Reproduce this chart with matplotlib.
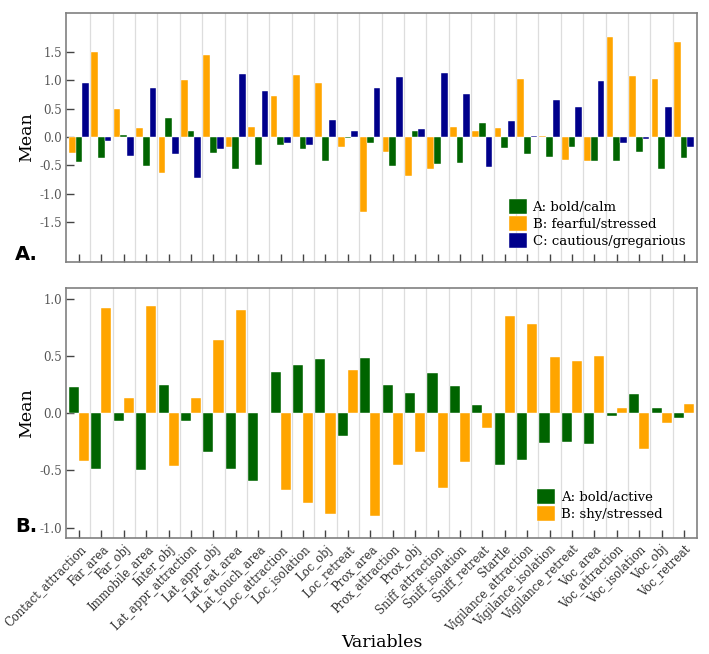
import matplotlib
matplotlib.use("Agg")
import matplotlib.pyplot as plt
import numpy as np

variables = ['Contact_attraction', 'Far_area', 'Far_obj', 'Immobile_area', 'Inter_obj',
             'Lat_appr_attraction', 'Lat_appr_obj', 'Lat_eat_area', 'Lat_touch_area',
             'Loc_attraction', 'Loc_isolation', 'Loc_obj', 'Loc_retreat', 'Prox_area',
             'Prox_attraction', 'Prox_obj', 'Sniff_attraction', 'Sniff_isolation',
             'Sniff_retreat', 'Startle', 'Vigilance_attraction', 'Vigilance_isolation',
             'Vigilance_retreat', 'Voc_area', 'Voc_attraction', 'Voc_isolation',
             'Voc_obj', 'Voc_retreat']

# Panel A: three components
a_bold_calm = [-0.45, -0.37, 0.035, -0.52, 0.34, 0.11, -0.28, -0.57, -0.50, -0.15,
               -0.22, -0.43, -0.02, -0.11, -0.51, 0.10, -0.47, -0.46, 0.25, -0.20,
               -0.30, -0.36, -0.18, -0.43, -0.43, -0.27, -0.57, -0.37]
a_fearful = [-0.28, 1.50, 0.49, 0.165, -0.64, 1.01, 1.45, -0.17, 0.18, 0.73,
             1.09, 0.95, -0.17, -1.33, -0.26, -0.69, -0.57, 0.17, 0.10, 0.16,
             1.03, 0.01, -0.40, -0.43, 1.77, 1.07, 1.02, 1.68]
a_cautious = [0.95, -0.08, -0.33, 0.86, -0.31, -0.73, -0.22, 1.12, 0.82, -0.11,
              -0.15, 0.30, 0.11, 0.86, 1.06, 0.14, 1.13, 0.75, -0.53, 0.28,
              0.02, 0.65, 0.53, 0.99, -0.10, -0.04, 0.53, -0.18]

# Panel B: two components
b_bold_active = [0.23, -0.49, -0.07, -0.50, 0.25, -0.07, -0.34, -0.49, -0.59, 0.36,
                 0.42, 0.475, -0.20, 0.48, 0.245, 0.18, 0.355, 0.236, 0.07, -0.455,
                 -0.41, -0.26, -0.25, -0.27, -0.023, 0.17, 0.05, -0.04]
b_shy = [-0.42, 0.92, 0.13, 0.94, -0.46, 0.13, 0.64, 0.90, 0.0, -0.67,
         -0.78, -0.88, 0.376, -0.895, -0.45, -0.34, -0.65, -0.43, -0.125, 0.85,
         0.78, 0.49, 0.46, 0.50, 0.047, -0.31, -0.087, 0.08]

GREEN = '#006400'
ORANGE = '#FFA500'
BLUE = '#00008B'

plt.rcParams['font.family'] = ['DejaVu Serif']

x = np.arange(len(variables))

fig = plt.figure(figsize=(7.09, 6.54), dpi=100)
ax1 = fig.add_axes([0.0931, 0.5994, 0.890, 0.3807])
ax2 = fig.add_axes([0.0931, 0.1778, 0.890, 0.3818])


def style_axes(ax):
    ax.set_xlim(-0.58, len(variables) - 1 + 0.58)
    for s in ax.spines.values():
        s.set_color('#808080')
        s.set_linewidth(1.2)
    # light vertical separators between variables
    for b in np.arange(0.5, len(variables) - 1, 1.0):
        ax.axvline(b, color='#dddddd', linewidth=0.9, zorder=0)
    ax.set_xticks(x)
    ax.tick_params(axis='x', direction='in', length=6, width=1, color='#444444')
    ax.tick_params(axis='y', direction='in', length=6, width=1, color='#444444',
                   labelsize=8.5, labelcolor='#555555', pad=3)
    ax.set_ylabel('Mean', fontsize=12.5, labelpad=3)


legend_kw = dict(loc='lower right', frameon=False, fontsize=9.5,
                 handlelength=1.36, handleheight=1.36, handletextpad=0.45,
                 labelspacing=0.15, borderpad=0, borderaxespad=0)

# Panel A
w = 0.3
ax1.bar(x - w, a_fearful, w, color=ORANGE, edgecolor='white', linewidth=0.3,
        label='B: fearful/stressed', zorder=2)
ax1.bar(x, a_bold_calm, w, color=GREEN, edgecolor='white', linewidth=0.3,
        label='A: bold/calm', zorder=2)
ax1.bar(x + w, a_cautious, w, color=BLUE, edgecolor='white', linewidth=0.3,
        label='C: cautious/gregarious', zorder=2)
style_axes(ax1)
ax1.set_ylim(-2.21, 2.19)
ax1.set_yticks([-1.5, -1.0, -0.5, 0.0, 0.5, 1.0, 1.5])
ax1.set_yticklabels(['-1.5', '-1.0', '-0.5', '0.0', '0.5', '1.0', '1.5'])
ax1.set_xticklabels([])
h, l = ax1.get_legend_handles_labels()
ax1.legend([h[1], h[0], h[2]], [l[1], l[0], l[2]],
           bbox_to_anchor=(0.981, 0.058), **legend_kw)

# Panel B
w2 = 0.45
ax2.bar(x - w2 / 2, b_bold_active, w2, color=GREEN, edgecolor='white', linewidth=0.3,
        label='A: bold/active', zorder=2)
ax2.bar(x + w2 / 2, b_shy, w2, color=ORANGE, edgecolor='white', linewidth=0.3,
        label='B: shy/stressed', zorder=2)
style_axes(ax2)
ax2.set_ylim(-1.088, 1.096)
ax2.set_yticks([-1.0, -0.5, 0.0, 0.5, 1.0])
ax2.set_yticklabels(['-1.0', '-0.5', '0.0', '0.5', '1.0'])
ax2.set_xticklabels(variables, rotation=45, ha='right', rotation_mode='anchor',
                    fontsize=8.3, color='#333333')
ax2.legend(bbox_to_anchor=(0.945, 0.068), **legend_kw)

fig.text(0.5381, 0.005, 'Variables', ha='center', va='bottom', fontsize=12.5)

fig.text(0.021, 1 - 260 / 654, 'A.', fontsize=14, fontweight='bold',
         family='DejaVu Sans', ha='left', va='baseline')
fig.text(0.021, 1 - 532 / 654, 'B.', fontsize=14, fontweight='bold',
         family='DejaVu Sans', ha='left', va='baseline')

fig.savefig('out.png', dpi=100)
